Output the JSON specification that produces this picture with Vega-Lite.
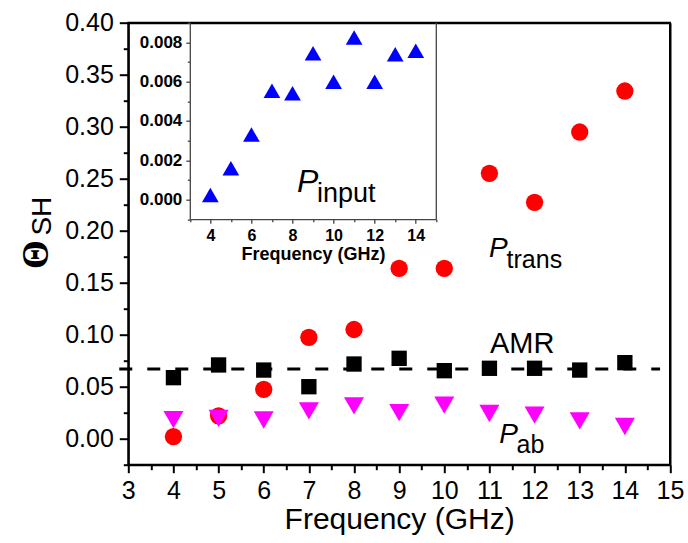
{
  "$schema": "https://vega.github.io/schema/vega-lite/v6.json",
  "autosize": {"type": "none"},
  "width": 541.7,
  "height": 442,
  "padding": {"left": 128.3, "top": 22.7, "right": 18, "bottom": 78.3},
  "background": "white",
  "config": {"view": {"stroke": "black", "strokeWidth": 2}, "font": "Liberation Sans"},
  "datasets": {
    "trans": [
      {"f": 4, "v": 0.002}, {"f": 5, "v": 0.022}, {"f": 6, "v": 0.0475}, {"f": 7, "v": 0.0975},
      {"f": 8, "v": 0.105}, {"f": 9, "v": 0.1638}, {"f": 10, "v": 0.1638}, {"f": 11, "v": 0.2552},
      {"f": 12, "v": 0.2273}, {"f": 13, "v": 0.2949}, {"f": 14, "v": 0.3343}
    ],
    "amr": [
      {"f": 4, "v": 0.0587}, {"f": 5, "v": 0.0709}, {"f": 6, "v": 0.066}, {"f": 7, "v": 0.05},
      {"f": 8, "v": 0.0718}, {"f": 9, "v": 0.0773}, {"f": 10, "v": 0.0654}, {"f": 11, "v": 0.0677},
      {"f": 12, "v": 0.0677}, {"f": 13, "v": 0.066}, {"f": 14, "v": 0.0731}
    ],
    "ab": [
      {"f": 4, "v": 0.0183}, {"f": 5, "v": 0.0196}, {"f": 6, "v": 0.018}, {"f": 7, "v": 0.0268},
      {"f": 8, "v": 0.0316}, {"f": 9, "v": 0.025}, {"f": 10, "v": 0.0322}, {"f": 11, "v": 0.0242},
      {"f": 12, "v": 0.0226}, {"f": 13, "v": 0.0172}, {"f": 14, "v": 0.0117}
    ],
    "input": [
      {"f": 4, "v": 0.00023}, {"f": 5, "v": 0.00159}, {"f": 6, "v": 0.00331}, {"f": 7, "v": 0.00554},
      {"f": 8, "v": 0.00541}, {"f": 9, "v": 0.00744}, {"f": 10, "v": 0.006}, {"f": 11, "v": 0.00825},
      {"f": 12, "v": 0.006}, {"f": 13, "v": 0.00739}, {"f": 14, "v": 0.00757}
    ],
    "one": [{}]
  },
  "layer": [
    {
      "resolve": {"axis": {"x": "independent", "y": "independent"}},
      "layer": [
        {
          "data": {"name": "one"},
          "mark": {"type": "rule", "strokeDash": [13, 15], "strokeWidth": 3, "color": "black"},
          "encoding": {
            "x": {"datum": 2.8, "type": "quantitative", "scale": {"domain": [3, 15], "nice": false, "zero": false}, "axis": null},
            "x2": {"datum": 14.78},
            "y": {"datum": 0.067, "type": "quantitative", "scale": {"domain": [-0.025, 0.4], "nice": false, "zero": false}, "axis": null}
          }
        },
        {
          "data": {"name": "trans"},
          "mark": {"type": "point", "shape": "circle", "filled": true, "size": 300, "color": "#FF0000", "opacity": 1},
          "encoding": {
            "x": {
              "field": "f", "type": "quantitative", "title": "Frequency (GHz)",
              "scale": {"domain": [3, 15], "nice": false, "zero": false},
              "axis": {
                "orient": "bottom",
                "values": [3, 4, 5, 6, 7, 8, 9, 10, 11, 12, 13, 14, 15],
                "format": "d", "tickSize": 8,
                "tickWidth": 2, "tickColor": "black", "domainColor": "black", "domainWidth": 2,
                "labelFont": "Liberation Sans", "labelFontSize": 25, "labelColor": "black",
                "labelPadding": 6, "labelOverlap": false, "labelFlush": false,
                "titleFont": "Liberation Sans", "titleFontSize": 30, "titleFontWeight": "normal",
                "titleColor": "black", "titlePadding": 1, "grid": false
              }
            },
            "y": {
              "field": "v", "type": "quantitative", "title": null,
              "scale": {"domain": [-0.025, 0.4], "nice": false, "zero": false},
              "axis": {
                "orient": "left",
                "values": [0, 0.05, 0.1, 0.15, 0.2, 0.25, 0.3, 0.35, 0.4],
                "format": ".2f", "tickSize": 9,
                "tickWidth": 2, "tickColor": "black", "domainColor": "black", "domainWidth": 2,
                "labelFont": "Liberation Sans", "labelFontSize": 25, "labelColor": "black",
                "labelPadding": 6, "labelOverlap": false, "labelFlush": false, "grid": false
              }
            }
          }
        },
        {
          "data": {"name": "amr"},
          "mark": {"type": "point", "shape": "square", "filled": true, "size": 235, "color": "#000000", "opacity": 1},
          "encoding": {
            "x": {
              "field": "f", "type": "quantitative",
              "scale": {"domain": [3, 15], "nice": false, "zero": false},
              "axis": {
                "orient": "bottom", "title": null, "labels": false, "domain": false,
                "values": [3.5, 4.5, 5.5, 6.5, 7.5, 8.5, 9.5, 10.5, 11.5, 12.5, 13.5, 14.5],
                "tickSize": 5, "tickWidth": 2, "tickColor": "black", "grid": false
              }
            },
            "y": {
              "field": "v", "type": "quantitative",
              "scale": {"domain": [-0.025, 0.4], "nice": false, "zero": false},
              "axis": {
                "orient": "left", "title": null, "labels": false, "domain": false,
                "values": [-0.025, 0.025, 0.075, 0.125, 0.175, 0.225, 0.275, 0.325, 0.375],
                "tickSize": 5, "tickWidth": 2, "tickColor": "black", "grid": false
              }
            }
          }
        },
        {
          "data": {"name": "ab"},
          "mark": {"type": "point", "shape": "triangle-down", "filled": true, "size": 400, "color": "#FF00FF", "opacity": 1},
          "encoding": {
            "x": {
              "field": "f", "type": "quantitative",
              "scale": {"domain": [3, 15], "nice": false, "zero": false},
              "axis": {"orient": "top", "title": null, "labels": false, "ticks": false, "domain": true, "domainColor": "black", "domainWidth": 2, "grid": false}
            },
            "y": {
              "field": "v", "type": "quantitative",
              "scale": {"domain": [-0.025, 0.4], "nice": false, "zero": false},
              "axis": {"orient": "right", "title": null, "labels": false, "ticks": false, "domain": true, "domainColor": "black", "domainWidth": 2, "grid": false}
            }
          }
        },
        {
          "data": {"name": "one"},
          "mark": {"type": "text", "font": "Liberation Sans", "fontSize": 29, "align": "left", "baseline": "alphabetic", "color": "black"},
          "encoding": {
            "x": {"datum": 11.01, "type": "quantitative", "scale": {"domain": [3, 15], "nice": false, "zero": false}, "axis": null},
            "y": {"datum": 0.0821, "type": "quantitative", "scale": {"domain": [-0.025, 0.4], "nice": false, "zero": false}, "axis": null},
            "text": {"value": "AMR"}
          }
        },
        {
          "data": {"name": "one"},
          "mark": {"type": "text", "font": "Liberation Sans", "fontSize": 28, "fontStyle": "italic", "align": "left", "baseline": "alphabetic", "color": "black"},
          "encoding": {
            "x": {"datum": 10.99, "type": "quantitative", "scale": {"domain": [3, 15], "nice": false, "zero": false}, "axis": null},
            "y": {"datum": 0.175, "type": "quantitative", "scale": {"domain": [-0.025, 0.4], "nice": false, "zero": false}, "axis": null},
            "text": {"value": "P"}
          }
        },
        {
          "data": {"name": "one"},
          "mark": {"type": "text", "font": "Liberation Sans", "fontSize": 25, "align": "left", "baseline": "alphabetic", "color": "black"},
          "encoding": {
            "x": {"datum": 11.38, "type": "quantitative", "scale": {"domain": [3, 15], "nice": false, "zero": false}, "axis": null},
            "y": {"datum": 0.1638, "type": "quantitative", "scale": {"domain": [-0.025, 0.4], "nice": false, "zero": false}, "axis": null},
            "text": {"value": "trans"}
          }
        },
        {
          "data": {"name": "one"},
          "mark": {"type": "text", "font": "Liberation Sans", "fontSize": 28, "fontStyle": "italic", "align": "left", "baseline": "alphabetic", "color": "black"},
          "encoding": {
            "x": {"datum": 11.22, "type": "quantitative", "scale": {"domain": [3, 15], "nice": false, "zero": false}, "axis": null},
            "y": {"datum": -0.0044, "type": "quantitative", "scale": {"domain": [-0.025, 0.4], "nice": false, "zero": false}, "axis": null},
            "text": {"value": "P"}
          }
        },
        {
          "data": {"name": "one"},
          "mark": {"type": "text", "font": "Liberation Sans", "fontSize": 25, "align": "left", "baseline": "alphabetic", "color": "black"},
          "encoding": {
            "x": {"datum": 11.6, "type": "quantitative", "scale": {"domain": [3, 15], "nice": false, "zero": false}, "axis": null},
            "y": {"datum": -0.014, "type": "quantitative", "scale": {"domain": [-0.025, 0.4], "nice": false, "zero": false}, "axis": null},
            "text": {"value": "ab"}
          }
        },
        {
          "data": {"name": "one"},
          "mark": {"type": "text", "font": "Liberation Serif", "fontSize": 37, "fontWeight": "bold", "align": "center", "baseline": "middle", "angle": 270, "color": "black"},
          "encoding": {
            "x": {"datum": 0.98, "type": "quantitative", "scale": {"domain": [3, 15], "nice": false, "zero": false}, "axis": null},
            "y": {"datum": 0.177, "type": "quantitative", "scale": {"domain": [-0.025, 0.4], "nice": false, "zero": false}, "axis": null},
            "text": {"value": "Θ"}
          }
        },
        {
          "data": {"name": "one"},
          "mark": {"type": "text", "font": "Liberation Sans", "fontSize": 28, "align": "center", "baseline": "middle", "angle": 270, "color": "black"},
          "encoding": {
            "x": {"datum": 1.1, "type": "quantitative", "scale": {"domain": [3, 15], "nice": false, "zero": false}, "axis": null},
            "y": {"datum": 0.214, "type": "quantitative", "scale": {"domain": [-0.025, 0.4], "nice": false, "zero": false}, "axis": null},
            "text": {"value": "SH"}
          }
        }
      ]
    },
    {
      "resolve": {"axis": {"x": "independent", "y": "independent"}},
      "layer": [
        {
          "data": {"name": "one"},
          "mark": {"type": "rule", "color": "#444444", "strokeWidth": 1.3},
          "encoding": {
            "x": {
              "datum": 15, "type": "quantitative",
              "scale": {"domain": [3, 15], "nice": false, "zero": false, "range": [61.5, 308]},
              "axis": {
                "orient": "bottom", "offset": -245.5, "title": null, "labels": false, "domain": false,
                "values": [3, 5, 7, 9, 11, 13, 15],
                "tickSize": 2.5, "tickWidth": 1.3, "tickColor": "#444444", "grid": false
              }
            },
            "y": {
              "datum": -0.001, "type": "quantitative",
              "scale": {"domain": [-0.001, 0.009], "nice": false, "zero": false, "range": [196.5, 0]},
              "axis": {
                "orient": "left", "offset": -61.5, "title": null, "labels": false, "domain": false,
                "values": [-0.001, 0.001, 0.003, 0.005, 0.007, 0.009],
                "tickSize": 2.5, "tickWidth": 1.3, "tickColor": "#444444", "grid": false
              }
            },
            "y2": {"datum": 0.009}
          }
        },
        {
          "data": {"name": "input"},
          "mark": {"type": "point", "shape": "triangle-up", "filled": true, "size": 280, "color": "#0000FF", "opacity": 1},
          "encoding": {
            "x": {
              "field": "f", "type": "quantitative", "title": "Frequency (GHz)",
              "scale": {"domain": [3, 15], "nice": false, "zero": false, "range": [61.5, 308]},
              "axis": {
                "orient": "bottom", "offset": -245.5,
                "values": [4, 6, 8, 10, 12, 14],
                "format": "d", "tickSize": 4,
                "tickWidth": 1.3, "tickColor": "#444444", "domainColor": "#444444", "domainWidth": 1.3,
                "labelFont": "Liberation Sans", "labelFontSize": 16, "labelFontWeight": "bold", "labelColor": "black",
                "labelPadding": 4, "labelOverlap": false, "labelFlush": false,
                "titleFont": "Liberation Sans", "titleFontSize": 18, "titleFontWeight": "bold",
                "titleColor": "black", "titlePadding": 2, "grid": false
              }
            },
            "y": {
              "field": "v", "type": "quantitative", "title": null,
              "scale": {"domain": [-0.001, 0.009], "nice": false, "zero": false, "range": [196.5, 0]},
              "axis": {
                "orient": "left", "offset": -61.5,
                "values": [0, 0.002, 0.004, 0.006, 0.008],
                "format": ".3f", "tickSize": 4,
                "tickWidth": 1.3, "tickColor": "#444444", "domainColor": "#444444", "domainWidth": 1.3,
                "labelFont": "Liberation Sans", "labelFontSize": 17, "labelFontWeight": "bold", "labelColor": "black",
                "labelPadding": 4, "labelOverlap": false, "labelFlush": false, "grid": false
              }
            }
          }
        },
        {
          "data": {"name": "one"},
          "mark": {"type": "text", "font": "Liberation Sans", "fontSize": 32, "fontStyle": "italic", "align": "left", "baseline": "alphabetic", "color": "black"},
          "encoding": {
            "x": {"datum": 8.22, "type": "quantitative", "scale": {"domain": [3, 15], "nice": false, "zero": false, "range": [61.5, 308]}, "axis": null},
            "y": {"datum": 0.00037, "type": "quantitative", "scale": {"domain": [-0.001, 0.009], "nice": false, "zero": false, "range": [196.5, 0]}, "axis": null},
            "text": {"value": "P"}
          }
        },
        {
          "data": {"name": "one"},
          "mark": {"type": "text", "font": "Liberation Sans", "fontSize": 27, "align": "left", "baseline": "alphabetic", "color": "black"},
          "encoding": {
            "x": {"datum": 9.19, "type": "quantitative", "scale": {"domain": [3, 15], "nice": false, "zero": false, "range": [61.5, 308]}, "axis": null},
            "y": {"datum": -0.00012, "type": "quantitative", "scale": {"domain": [-0.001, 0.009], "nice": false, "zero": false, "range": [196.5, 0]}, "axis": null},
            "text": {"value": "input"}
          }
        }
      ]
    }
  ],
  "resolve": {"scale": {"x": "independent", "y": "independent"}, "axis": {"x": "independent", "y": "independent"}}
}
